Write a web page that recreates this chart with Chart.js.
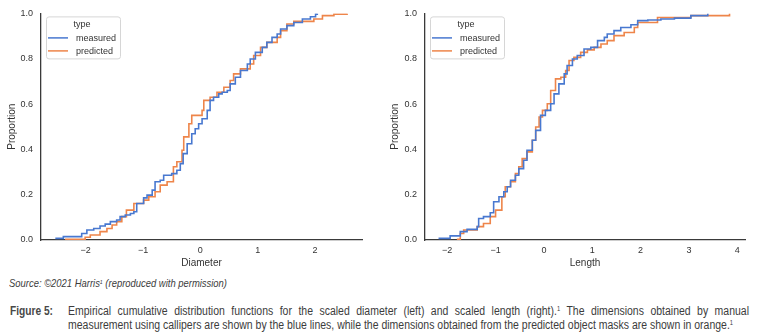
<!DOCTYPE html>
<html>
<head>
<meta charset="utf-8">
<script src="https://cdn.jsdelivr.net/npm/chart.js@4.4.1/dist/chart.umd.min.js"></script>
<style>
  body { margin: 0; width: 762px; height: 336px; background: #fff; position: relative; overflow: hidden;
         font-family: 'Liberation Sans', Arial, sans-serif; color: #3c3c3c; }
  canvas { position: absolute; top: 0; }
  #c1 { left: 0; }
  #c2 { left: 380px; }
  .cap { position: absolute; white-space: nowrap; transform-origin: 0 0; display: inline-block; }
  .cap sup { font-size: 0.55em; vertical-align: 0.55em; line-height: 0; }
  #src { left: 9px; top: 278px; font-size: 11px; line-height: 11px; font-style: italic; }
  #fig { left: 10px; top: 305px; font-size: 12px; line-height: 12px; font-weight: bold; color: #484848; }
  #l1 { left: 68px; top: 305px; font-size: 12px; line-height: 12px; white-space: normal; text-align: justify; text-align-last: justify; }
  #l2 { left: 68px; top: 318.5px; font-size: 12px; line-height: 12px; }
</style>
</head>
<body>
<canvas id="c1" width="380" height="272"></canvas>
<canvas id="c2" width="382" height="272"></canvas>
<div id="src" class="cap">Source: ©2021 Harris<sup>1</sup> (reproduced with permission)</div>
<div id="fig" class="cap">Figure 5:</div>
<div id="l1" class="cap">Empirical cumulative distribution functions for the scaled diameter (left) and scaled length (right).<sup>1</sup> The dimensions obtained by manual</div>
<div id="l2" class="cap">measurement using callipers are shown by the blue lines, while the dimensions obtained from the predicted object masks are shown in orange.<sup>1</sup></div>
<script>
// --- dados (degraus da ECDF) ---
var seriesNames = ['measured', 'predicted'];

var diamMeasuredX = [-2.53, -2.39, -2.07, -1.98, -1.86, -1.75, -1.66, -1.57, -1.46, -1.40, -1.31, -1.22, -1.16, -1.11,
  -0.99, -0.93, -0.84, -0.79, -0.70, -0.64, -0.50, -0.41, -0.35, -0.30, -0.23, -0.15, -0.09, -0.03, 0.03, 0.12,
  0.17, 0.23, 0.32, 0.38, 0.47, 0.52, 0.61, 0.70, 0.82, 0.87, 0.96, 1.08, 1.16, 1.25, 1.34, 1.40, 1.51, 1.63,
  1.78, 1.92, 2.01, 2.04];
var diamMeasuredY = [0.007, 0.015, 0.029, 0.044, 0.051, 0.062, 0.070, 0.081, 0.088, 0.103, 0.110, 0.117, 0.125, 0.161,
  0.186, 0.198, 0.220, 0.257, 0.264, 0.286, 0.293, 0.308, 0.337, 0.381, 0.425, 0.469, 0.491, 0.513, 0.535, 0.572,
  0.616, 0.630, 0.645, 0.652, 0.660, 0.689, 0.718, 0.748, 0.777, 0.799, 0.828, 0.850, 0.872, 0.894, 0.909, 0.931, 0.946, 0.960,
  0.975, 0.985, 0.997, 1.0];

var diamPredictedX = [-2.36, -2.01, -1.92, -1.75, -1.63, -1.54, -1.46, -1.37, -1.29, -1.16, -0.99, -0.90, -0.79, -0.70,
  -0.58, -0.47, -0.41, -0.32, -0.29, -0.20, -0.15, 0.03, 0.06, 0.17, 0.29, 0.41, 0.52, 0.58, 0.70, 0.87, 0.93,
  1.05, 1.16, 1.34, 1.40, 1.51, 1.63, 1.98, 2.13, 2.33, 2.56];
var diamPredictedY = [0.003, 0.012, 0.022, 0.037, 0.051, 0.066, 0.081, 0.103, 0.132, 0.161, 0.176, 0.191, 0.213, 0.242,
  0.257, 0.323, 0.345, 0.396, 0.455, 0.513, 0.550, 0.572, 0.616, 0.630, 0.652, 0.674, 0.704, 0.733, 0.755, 0.777, 0.814,
  0.850, 0.872, 0.894, 0.924, 0.953, 0.965, 0.975, 0.990, 0.997, 1.0];

var lenMeasuredX = [-2.18, -1.94, -1.73, -1.59, -1.38, -1.35, -1.25, -1.11, -1.04, -0.93, -0.83, -0.76, -0.69, -0.59,
  -0.52, -0.42, -0.35, -0.24, -0.17, -0.07, 0.03, 0.14, 0.21, 0.31, 0.42, 0.48, 0.59, 0.69, 0.83, 0.97, 1.11,
  1.25, 1.31, 1.45, 1.59, 1.80, 1.94, 2.15, 2.42, 2.70, 3.04, 3.39];
var lenMeasuredY = [0.007, 0.018, 0.037, 0.047, 0.059, 0.095, 0.103, 0.120, 0.169, 0.191, 0.213, 0.235, 0.264, 0.286,
  0.315, 0.352, 0.396, 0.440, 0.484, 0.550, 0.572, 0.601, 0.645, 0.689, 0.733, 0.770, 0.799, 0.814, 0.843, 0.850, 0.880,
  0.894, 0.909, 0.924, 0.938, 0.950, 0.968, 0.971, 0.975, 0.979, 0.990, 1.0];

var lenPredictedX = [-1.80, -1.73, -1.66, -1.38, -1.25, -1.11, -1.00, -0.87, -0.80, -0.69, -0.59, -0.52, -0.45, -0.35,
  -0.24, -0.17, -0.10, -0.03, 0.07, 0.14, 0.24, 0.35, 0.45, 0.52, 0.62, 0.76, 0.90, 1.04, 1.18, 1.31, 1.45,
  1.66, 1.87, 1.94, 2.35, 3.04, 3.84];
var lenPredictedY = [0.003, 0.029, 0.044, 0.059, 0.073, 0.103, 0.132, 0.191, 0.235, 0.257, 0.293, 0.323, 0.359, 0.389,
  0.440, 0.499, 0.543, 0.572, 0.601, 0.660, 0.711, 0.718, 0.748, 0.792, 0.806, 0.828, 0.839, 0.850, 0.865, 0.880, 0.902,
  0.916, 0.938, 0.960, 0.982, 0.990, 1.0];

var yTicks = [0, 0.2, 0.4, 0.6, 0.8, 1.0];
var colors = ['#4878d0', '#ee854a'];
var textColor = '#333';

// legenda dentro da área do gráfico (estilo seaborn)
var insideLegend = {
  id: 'insideLegend',
  afterDatasetsDraw: function(chart) {
    var ctx = chart.ctx, a = chart.chartArea;
    var x = a.left + 5, y = a.top + 3, w = 74, h = 42;
    ctx.save();
    ctx.fillStyle = 'rgba(255,255,255,0.85)';
    ctx.strokeStyle = '#d6d6d6';
    ctx.lineWidth = 1;
    ctx.beginPath();
    ctx.roundRect(x + 0.5, y + 0.5, w, h, 2.5);
    ctx.fill();
    ctx.stroke();
    ctx.font = '9px "Liberation Sans", Arial, sans-serif';
    ctx.fillStyle = textColor;
    ctx.textBaseline = 'middle';
    ctx.textAlign = 'center';
    ctx.fillText('type', x + 36, y + 8.5);
    ctx.textAlign = 'left';
    chart.data.datasets.forEach(function(ds, i) {
      var ly = y + 21.5 + i * 13;
      ctx.strokeStyle = ds.borderColor;
      ctx.lineWidth = 1.5;
      ctx.beginPath();
      ctx.moveTo(x + 2, ly);
      ctx.lineTo(x + 22, ly);
      ctx.stroke();
      ctx.fillStyle = textColor;
      ctx.fillText(ds.label, x + 30, ly + 0.5);
    });
    ctx.restore();
  }
};

function toPoints(xs, ys) {
  return xs.map(function(v, i) { return { x: v, y: ys[i] }; });
}

function makeChart(id, xTitle, xMin, xMax, yWidth, padRight, yTitlePad, series) {
  var ctx = document.getElementById(id).getContext('2d');
  return new Chart(ctx, {
    type: 'line',
    data: {
      datasets: series.map(function(s, i) {
        return {
          label: seriesNames[i],
          data: toPoints(s[0], s[1]),
          borderColor: colors[i],
          backgroundColor: colors[i],
          borderWidth: 1.6,
          stepped: true,
          pointRadius: 0,
          fill: false
        };
      })
    },
    options: {
      responsive: false,
      animation: false,
      devicePixelRatio: 1,
      layout: { padding: { top: 13, right: padRight, left: 0, bottom: 0 } },
      plugins: { legend: { display: false }, tooltip: { enabled: false } },
      scales: {
        x: {
          type: 'linear',
          min: xMin,
          max: xMax,
          afterFit: function(s) { s.height = 32; },
          grid: { display: false, drawTicks: false },
          border: { display: true, color: '#3a3a3a', width: 1.3 },
          ticks: {
            stepSize: 1,
            includeBounds: false,
            maxRotation: 0,
            padding: 5,
            color: textColor,
            font: { family: '"Liberation Sans", Arial, sans-serif', size: 9 },
            callback: function(v) { return v < 0 ? '\u2212' + Math.abs(v) : String(v); }
          },
          title: {
            display: true,
            text: xTitle,
            color: textColor,
            font: { family: '"Liberation Sans", Arial, sans-serif', size: 10 },
            padding: { top: 0, bottom: 3 }
          }
        },
        y: {
          type: 'linear',
          min: 0,
          max: 1,
          afterFit: function(s) { s.width = yWidth; },
          afterBuildTicks: function(s) { s.ticks = yTicks.map(function(v) { return { value: v }; }); },
          grid: { display: false, drawTicks: false },
          border: { display: true, color: '#3a3a3a', width: 1.3 },
          ticks: {
            padding: 8,
            color: textColor,
            font: { family: '"Liberation Sans", Arial, sans-serif', size: 9 },
            callback: function(v) { return Number(v).toFixed(1); }
          },
          title: {
            display: true,
            text: 'Proportion',
            color: textColor,
            font: { family: '"Liberation Sans", Arial, sans-serif', size: 10 },
            padding: { top: yTitlePad, bottom: 0 }
          }
        }
      }
    },
    plugins: [insideLegend]
  });
}

makeChart('c1', 'Diameter', -2.78, 2.82, 41, 18, 6,
  [[diamMeasuredX, diamMeasuredY], [diamPredictedX, diamPredictedY]]);
makeChart('c2', 'Length', -2.46, 4.16, 45, 17, 9,
  [[lenMeasuredX, lenMeasuredY], [lenPredictedX, lenPredictedY]]);

// ajuste da largura das legendas (fonte condensada)
function fit(id, target) {
  var el = document.getElementById(id);
  var w = el.getBoundingClientRect().width;
  var s = target / w;
  el.style.transform = 'scaleX(' + s + ')';
  return s;
}
fit('src', 218);
fit('fig', 43);
var s2 = fit('l2', 665);
var l1 = document.getElementById('l1');
l1.style.width = (681 / s2) + 'px';
l1.style.transform = 'scaleX(' + s2 + ')';
</script>
</body>
</html>
